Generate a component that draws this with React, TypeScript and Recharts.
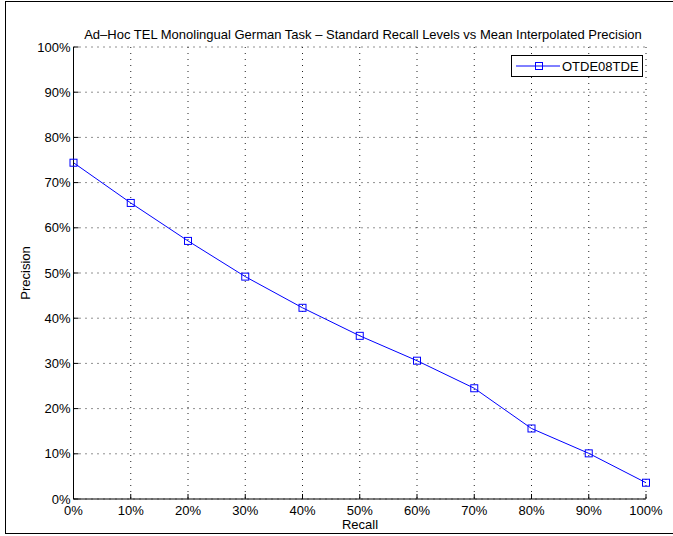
import { LineChart, Line, XAxis, YAxis, CartesianGrid } from 'recharts'

const recallLevels = [0, 10, 20, 30, 40, 50, 60, 70, 80, 90, 100]
const precision = [74.4, 65.5, 57.1, 49.2, 42.3, 36.1, 30.6, 24.5, 15.6, 10.1, 3.6]
const percentTicks = [0, 10, 20, 30, 40, 50, 60, 70, 80, 90, 100]
const runName = 'OTDE08TDE'
const title = 'Ad–Hoc TEL Monolingual German Task – Standard Recall Levels vs Mean Interpolated Precision'

const data = recallLevels.map((r, i) => ({ recall: r, precision: precision[i] }))

const FONT = 'Liberation Sans, Arial, sans-serif'
const BLUE = '#0000ff'

function BottomTick(props: any) {
  const { x, y, payload } = props
  return (
    <g>
      <line x1={x} y1={y} x2={x} y2={y - 5} stroke="#000" />
      <text x={x} y={y + 16} textAnchor="middle" fontSize={13} fontFamily={FONT} fill="#000">
        {payload.value}%
      </text>
    </g>
  )
}

function LeftTick(props: any) {
  const { x, y, payload } = props
  return (
    <g>
      <line x1={x} y1={y} x2={x + 5} y2={y} stroke="#000" />
      <text x={x - 3} y={y + 4.5} textAnchor="end" fontSize={13} fontFamily={FONT} fill="#000">
        {payload.value}%
      </text>
    </g>
  )
}

function TopTick(props: any) {
  const { x, y } = props
  return <line x1={x} y1={y} x2={x} y2={y + 5} stroke="#000" />
}

function RightTick(props: any) {
  const { x, y } = props
  return <line x1={x} y1={y} x2={x - 5} y2={y} stroke="#000" />
}

function SquareDot(props: any) {
  const { cx, cy } = props
  if (cx == null || cy == null) return null
  return <rect x={cx - 3.5} y={cy - 3.5} width={7} height={7} fill="none" stroke={BLUE} strokeWidth={1} />
}

export default function App() {
  return (
    <div
      style={{
        position: 'absolute',
        left: 0,
        top: 0,
        width: 673,
        height: 536,
        overflow: 'hidden',
        background: '#fff',
        fontFamily: FONT,
      }}
    >
      {/* outer figure frame */}
      <div
        style={{
          position: 'absolute',
          left: 5,
          top: 1,
          width: 680,
          height: 531,
          border: '1px solid #000',
        }}
      />
      <div
        style={{
          position: 'absolute',
          left: 0,
          width: 726,
          top: 27,
          textAlign: 'center',
          fontSize: 13,
          whiteSpace: 'nowrap',
        }}
      >
        {title}
      </div>
      <div
        style={{
          position: 'absolute',
          left: 25,
          top: 273,
          transform: 'translate(-50%, -50%) rotate(-90deg)',
          fontSize: 13,
          whiteSpace: 'nowrap',
        }}
      >
        Precision
      </div>
      <div
        style={{
          position: 'absolute',
          left: 0,
          width: 720,
          top: 517,
          textAlign: 'center',
          fontSize: 13,
          lineHeight: '15px',
        }}
      >
        Recall
      </div>
      <div style={{ position: 'absolute', left: 0, top: 0 }}>
        <LineChart width={673} height={536} data={data} margin={{ top: 47, right: 27, bottom: 0, left: 0 }}>
          <CartesianGrid
            xAxisId="b"
            yAxisId="l"
            stroke="#222"
            strokeDasharray="1 5"
            verticalValues={percentTicks}
            horizontalValues={percentTicks}
          />
          <XAxis
            xAxisId="b"
            dataKey="recall"
            type="number"
            domain={[0, 100]}
            ticks={percentTicks}
            height={37}
            tickSize={0}
            tickMargin={0}
            tickLine={false}
            axisLine={{ stroke: '#000' }}
            tick={<BottomTick />}
            interval={0}
          />
          <XAxis
            xAxisId="t"
            orientation="top"
            dataKey="recall"
            type="number"
            domain={[0, 100]}
            ticks={percentTicks}
            height={0}
            tickSize={0}
            tickMargin={0}
            tickLine={false}
            axisLine={{ stroke: '#000' }}
            tick={<TopTick />}
            interval={0}
          />
          <YAxis
            yAxisId="l"
            type="number"
            domain={[0, 100]}
            ticks={percentTicks}
            width={73.5}
            tickSize={0}
            tickMargin={0}
            tickLine={false}
            axisLine={{ stroke: '#000' }}
            tick={<LeftTick />}
            interval={0}
          />
          <YAxis
            yAxisId="r"
            orientation="right"
            type="number"
            domain={[0, 100]}
            ticks={percentTicks}
            width={0}
            tickSize={0}
            tickMargin={0}
            tickLine={false}
            axisLine={{ stroke: '#000' }}
            tick={<RightTick />}
            interval={0}
          />
          <Line
            xAxisId="t"
            yAxisId="r"
            dataKey="precision"
            stroke="none"
            dot={false}
            activeDot={false}
            legendType="none"
            isAnimationActive={false}
          />
          <Line
            xAxisId="b"
            yAxisId="l"
            type="linear"
            dataKey="precision"
            name={runName}
            stroke={BLUE}
            strokeWidth={1}
            dot={<SquareDot />}
            activeDot={false}
            isAnimationActive={false}
          />
        </LineChart>
      </div>
      {/* legend */}
      <div
        style={{
          position: 'absolute',
          left: 511,
          top: 55,
          width: 130,
          height: 20,
          border: '1px solid #000',
          background: '#fff',
          display: 'flex',
          alignItems: 'center',
        }}
      >
        <svg width={50} height={20} style={{ display: 'block' }}>
          <line x1={4} y1={10} x2={48} y2={10} stroke={BLUE} strokeWidth={1} />
          <rect x={23.5} y={6.5} width={7} height={7} fill="none" stroke={BLUE} />
        </svg>
        <span style={{ fontSize: 13, marginLeft: 0 }}>{runName}</span>
      </div>
    </div>
  )
}
